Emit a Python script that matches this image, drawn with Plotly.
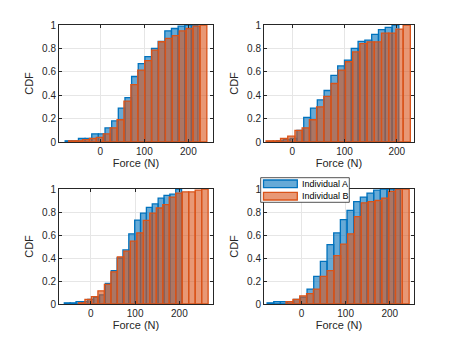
import plotly.graph_objects as go
import numpy as np

W, H = 458, 343

# ---------------- data (bin start, bin width, CDF values) ----------------
# Panel 1 (top-left)
p1_a_start, p1_a_width = -80.0, 15.1
p1_a_cdf = [0.01, 0.01, 0.03, 0.03, 0.07, 0.07, 0.12, 0.18, 0.29, 0.38,
            0.56, 0.67, 0.73, 0.80, 0.86, 0.95, 0.97, 0.99, 1.00, 1.00]
p1_b_start, p1_b_width = -72.0, 15.7
p1_b_cdf = [0.01, 0.01, 0.02, 0.03, 0.04, 0.07, 0.12, 0.19, 0.35, 0.49,
            0.615, 0.695, 0.786, 0.857, 0.886, 0.91, 0.949, 0.97, 0.99, 1.00]

# Panel 2 (top-right)
p2_a_start, p2_a_width = -43.0, 13.0
p2_a_cdf = [0.005, 0.01, 0.02, 0.03, 0.10, 0.21, 0.29, 0.36, 0.44, 0.57,
            0.65, 0.70, 0.80, 0.86, 0.87, 0.92, 0.96, 0.98, 1.00]
p2_b_start, p2_b_width = -50.0, 13.8
p2_b_cdf = [0.01, 0.01, 0.03, 0.05, 0.10, 0.12, 0.19, 0.30, 0.39, 0.50,
            0.615, 0.686, 0.77, 0.84, 0.855, 0.855, 0.93, 0.93, 0.965, 1.00]

# Panel 3 (bottom-left)
p3_a_start, p3_a_width = -60.0, 13.25
p3_a_cdf = [0.01, 0.01, 0.02, 0.02, 0.04, 0.06, 0.08, 0.18, 0.29, 0.40,
            0.47, 0.61, 0.73, 0.79, 0.84, 0.87, 0.92, 0.945, 0.955, 1.00]
p3_b_start, p3_b_width = -28.0, 14.65
p3_b_cdf = [0.01, 0.04, 0.065, 0.115, 0.17, 0.28, 0.41, 0.46, 0.546, 0.618,
            0.728, 0.79, 0.835, 0.865, 0.93, 0.965, 0.975, 0.975, 0.99, 1.00]

# Panel 4 (bottom-right)
p4_a_start, p4_a_width = -78.0, 15.1
p4_a_cdf = [0.01, 0.02, 0.02, 0.02, 0.04, 0.06, 0.13, 0.24, 0.37, 0.517,
            0.618, 0.734, 0.815, 0.89, 0.93, 0.965, 0.99, 1.00, 1.00, 1.00]
p4_b_start, p4_b_width = -35.0, 15.5
p4_b_cdf = [0.02, 0.04, 0.07, 0.09, 0.13, 0.24, 0.29, 0.42, 0.52, 0.61,
            0.76, 0.88, 0.89, 0.90, 0.92, 0.98, 1.00, 1.00]

x_ranges = [[-94, 256], [-54, 233], [-72, 276], [-85, 255]]
x_ticks = [0, 100, 200]
y_ticks = [0, 0.2, 0.4, 0.6, 0.8, 1]
y_ticklabels = ["0", "0.2", "0.4", "0.6", "0.8", "1"]
series_names = ["Individual A", "Individual B"]

panels = [
    ((p1_a_start, p1_a_width, p1_a_cdf), (p1_b_start, p1_b_width, p1_b_cdf)),
    ((p2_a_start, p2_a_width, p2_a_cdf), (p2_b_start, p2_b_width, p2_b_cdf)),
    ((p3_a_start, p3_a_width, p3_a_cdf), (p3_b_start, p3_b_width, p3_b_cdf)),
    ((p4_a_start, p4_a_width, p4_a_cdf), (p4_b_start, p4_b_width, p4_b_cdf)),
]

# ---------------- styling ----------------
BLUE = "#0072BD"
ORANGE = "#D95319"
fills = ["rgba(0,114,189,0.6)", "rgba(217,83,25,0.6)"]
edges = [BLUE, ORANGE]
FONT = "Liberation Sans, Arial, Helvetica, sans-serif"
AX = "#262626"

def px(x):
    return x / W

def py(y):
    return (H - y) / H

# plot areas in pixels (left, right, top, bottom)
areas = [(59, 213, 25, 142), (264, 414, 25, 142),
         (59, 213, 189, 304), (264, 414, 189, 304)]

fig = go.Figure()
layout = dict(
    width=W, height=H, margin=dict(l=0, r=0, t=0, b=0, pad=0, autoexpand=False),
    paper_bgcolor="white", plot_bgcolor="white",
    barmode="overlay", showlegend=False,
    font=dict(family=FONT, size=10, color=AX),
)

for i, (pa, pb) in enumerate(panels):
    n = i + 1
    xa = "x" if n == 1 else f"x{n}"
    ya = "y" if n == 1 else f"y{n}"
    for k, (start, width, cdf) in enumerate((pa, pb)):
        cdf = np.array(cdf)
        edges_arr = start + width * np.arange(len(cdf) + 1)
        centers = (edges_arr[:-1] + edges_arr[1:]) / 2
        fig.add_trace(go.Bar(
            x=centers, y=cdf, width=[width] * len(cdf),
            marker=dict(color=fills[k], line=dict(color=edges[k], width=1.3)),
            name=series_names[k], xaxis=xa, yaxis=ya, hoverinfo="skip",
        ))
    l, r, t, b = areas[i]
    axis_common = dict(
        showline=True, linecolor=AX, linewidth=1, mirror="ticks",
        ticks="inside", ticklen=3, tickcolor=AX, automargin=False,
        showgrid=True, gridcolor="#e6e6e6", gridwidth=1,
        zeroline=False, tickfont=dict(family=FONT, size=10, color=AX),
    )
    layout["xaxis" if n == 1 else f"xaxis{n}"] = dict(
        domain=[px(l), px(r)], anchor=ya, range=x_ranges[i],
        tickvals=x_ticks, title=dict(text="Force (N)", font=dict(size=11, family=FONT, color=AX), standoff=3),
        **axis_common)
    layout["yaxis" if n == 1 else f"yaxis{n}"] = dict(
        domain=[py(b), py(t)], anchor=xa, range=[0, 1],
        tickvals=y_ticks, ticktext=y_ticklabels,
        title=dict(text="CDF", font=dict(size=11, family=FONT, color=AX), standoff=6),
        **axis_common)

fig.update_layout(**layout)

# ---------------- legend (drawn as box with patches) ----------------
lx0, lx1, ly0, ly1 = 260.7, 349.3, 177.7, 202.3
fig.add_shape(type="rect", xref="paper", yref="paper",
              x0=px(lx0), x1=px(lx1), y0=py(ly1), y1=py(ly0),
              fillcolor="white", line=dict(color=AX, width=0.8), layer="above")
patch_rows = [(180.0, 187.7), (192.3, 200.0)]
for k, (t, b) in enumerate(patch_rows):
    fig.add_shape(type="rect", xref="paper", yref="paper",
                  x0=px(263.5), x1=px(297.3), y0=py(b), y1=py(t),
                  fillcolor=fills[k], line=dict(color=edges[k], width=1.3), layer="above")
    fig.add_annotation(xref="paper", yref="paper", x=px(299.5), y=py((t + b) / 2),
                       text=series_names[k], showarrow=False, xanchor="left",
                       yanchor="middle", font=dict(family=FONT, size=9, color="#000000"))

fig.write_html("out.html", config={"displayModeBar": False},
               post_script="document.body.style.margin='0';")
